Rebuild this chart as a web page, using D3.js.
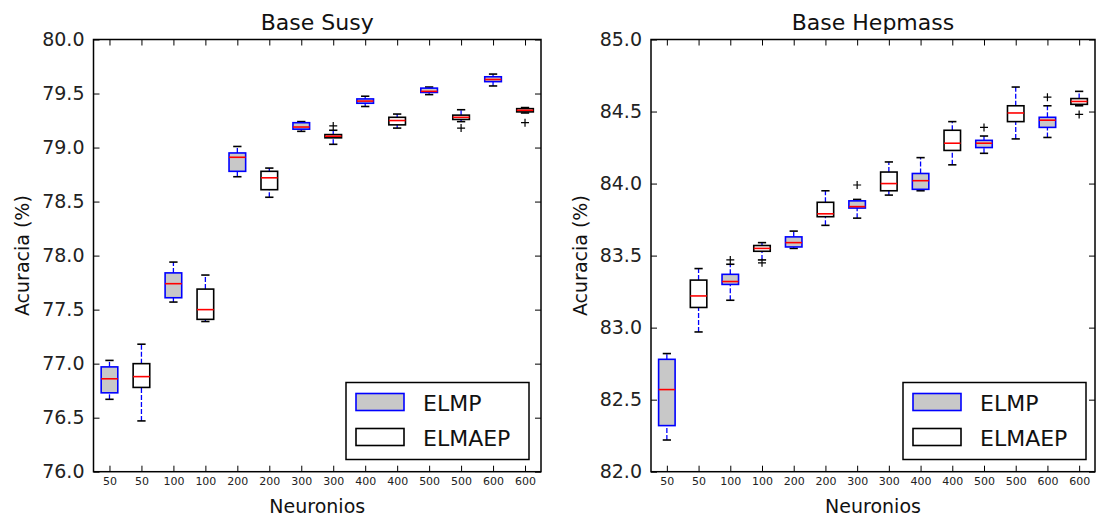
<!DOCTYPE html>
<html>
<head>
<meta charset="utf-8">
<script src="https://cdnjs.cloudflare.com/ajax/libs/d3/7.8.5/d3.min.js"></script>
<style>
  body { margin: 0; background: #fff; }
  svg { display: block; font-family: "DejaVu Sans", sans-serif; }
</style>
</head>
<body>
<svg id="chart" width="1097" height="521"></svg>
<script>
// x tick labels (one per box)
const tickLabels = ['50', '50', '100', '100', '200', '200', '300', '300', '400', '400', '500', '500', '600', '600'];
const seriesNames = ['ELMP', 'ELMAEP'];

// each box: [whisker low, q1, median, q3, whisker high]
const susyElmp = [
  [76.67, 76.73, 76.86, 76.97, 77.03],
  [77.57, 77.61, 77.74, 77.84, 77.94],
  [78.73, 78.78, 78.91, 78.95, 79.01],
  [79.15, 79.17, 79.19, 79.23, 79.24],
  [79.38, 79.41, 79.43, 79.45, 79.475],
  [79.49, 79.51, 79.52, 79.55, 79.56],
  [79.57, 79.61, 79.63, 79.655, 79.68]
];
const susyElmaep = [
  [76.47, 76.78, 76.88, 77.0, 77.18],
  [77.39, 77.41, 77.50, 77.69, 77.82],
  [78.54, 78.61, 78.72, 78.78, 78.81],
  [79.03, 79.09, 79.105, 79.12, 79.16],
  [79.18, 79.21, 79.25, 79.28, 79.31],
  [79.24, 79.26, 79.28, 79.30, 79.35],
  [79.32, 79.33, 79.345, 79.36, 79.37]
];
const susyElmpOut = [[], [], [], [], [], [], []];
const susyElmaepOut = [[], [], [], [79.2], [], [79.18], [79.23]];

const hepElmp = [
  [82.22, 82.32, 82.57, 82.78, 82.82],
  [83.19, 83.30, 83.32, 83.37, 83.44],
  [83.55, 83.56, 83.59, 83.63, 83.67],
  [83.76, 83.83, 83.84, 83.88, 83.89],
  [83.95, 83.96, 84.02, 84.07, 84.18],
  [84.21, 84.25, 84.28, 84.30, 84.33],
  [84.32, 84.39, 84.44, 84.46, 84.54]
];
const hepElmaep = [
  [82.97, 83.14, 83.22, 83.33, 83.41],
  [83.47, 83.53, 83.55, 83.57, 83.59],
  [83.71, 83.77, 83.79, 83.87, 83.95],
  [83.92, 83.95, 84.00, 84.08, 84.15],
  [84.13, 84.23, 84.28, 84.37, 84.43],
  [84.31, 84.43, 84.49, 84.54, 84.67],
  [84.54, 84.55, 84.57, 84.59, 84.64]
];
const hepElmpOut = [[], [83.47], [], [83.99], [], [84.39], [84.6]];
const hepElmaepOut = [[], [83.45], [], [], [], [], [84.48]];

const susyTicks = [76.0, 76.5, 77.0, 77.5, 78.0, 78.5, 79.0, 79.5, 80.0];
const hepTicks = [82.0, 82.5, 83.0, 83.5, 84.0, 84.5, 85.0];

// interleave ELMP / ELMAEP -> positions 1..14
function buildBoxes(a, b, outA, outB) {
  const rows = [];
  a.forEach((v, i) => {
    rows.push({ pos: i * 2 + 1, s: 0, v: v, out: outA[i] });
    rows.push({ pos: i * 2 + 2, s: 1, v: b[i], out: outB[i] });
  });
  return rows;
}

const panels = [
  { title: 'Base Susy', x0: 93.5, x1: 541, domain: [76, 80], ticks: susyTicks,
    boxes: buildBoxes(susyElmp, susyElmaep, susyElmpOut, susyElmaepOut), labelX: 22, legendX: 346 },
  { title: 'Base Hepmass', x0: 651, x1: 1095, domain: [82, 85], ticks: hepTicks,
    boxes: buildBoxes(hepElmp, hepElmaep, hepElmpOut, hepElmaepOut), labelX: 580, legendX: 903 }
];

const plotTop = 39.5, plotBottom = 471.7;
const svg = d3.select('#chart');

panels.forEach(p => {
  const x = d3.scaleLinear().domain([0.5, 14.5]).range([p.x0, p.x1]);
  const y = d3.scaleLinear().domain(p.domain).range([plotBottom, plotTop]);
  const step = x(2) - x(1);
  const g = svg.append('g');

  // axes with inward ticks
  const axB = g.append('g').attr('transform', `translate(0,${plotBottom})`)
    .call(d3.axisBottom(x).tickValues(d3.range(1, 15)).tickFormat(d => tickLabels[d - 1])
      .tickSize(-6).tickPadding(6));
  axB.selectAll('text').attr('font-size', 11).attr('fill', '#222').attr('font-family', 'DejaVu Sans');
  const axT = g.append('g').attr('transform', `translate(0,${plotTop})`)
    .call(d3.axisTop(x).tickValues(d3.range(1, 15)).tickFormat('').tickSize(-6));
  const axL = g.append('g').attr('transform', `translate(${p.x0},0)`)
    .call(d3.axisLeft(y).tickValues(p.ticks).tickFormat(d3.format('.1f')).tickSize(-6).tickPadding(9));
  axL.selectAll('text').attr('font-size', 19).attr('fill', '#222').attr('font-family', 'DejaVu Sans');
  const axR = g.append('g').attr('transform', `translate(${p.x1},0)`)
    .call(d3.axisRight(y).tickValues(p.ticks).tickFormat('').tickSize(-6));
  [axB, axT, axL, axR].forEach(a => {
    a.select('.domain').remove();
    a.selectAll('.tick line').attr('stroke', '#000').attr('stroke-width', 1);
  });

  // boxes
  const bw = step * 0.52, cw = step * 0.26;
  const bx = g.append('g').selectAll('g').data(p.boxes).enter().append('g');
  // whiskers
  bx.append('line')
    .attr('x1', d => x(d.pos)).attr('x2', d => x(d.pos))
    .attr('y1', d => y(d.v[0])).attr('y2', d => y(d.v[1]))
    .attr('stroke', '#0000ff').attr('stroke-width', 1.3).attr('stroke-dasharray', '5,2');
  bx.append('line')
    .attr('x1', d => x(d.pos)).attr('x2', d => x(d.pos))
    .attr('y1', d => y(d.v[3])).attr('y2', d => y(d.v[4]))
    .attr('stroke', '#0000ff').attr('stroke-width', 1.3).attr('stroke-dasharray', '5,2');
  // caps
  [0, 4].forEach(k => {
    bx.append('line')
      .attr('x1', d => x(d.pos) - cw / 2).attr('x2', d => x(d.pos) + cw / 2)
      .attr('y1', d => y(d.v[k])).attr('y2', d => y(d.v[k]))
      .attr('stroke', '#000').attr('stroke-width', 1.6);
  });
  bx.append('rect')
    .attr('x', d => x(d.pos) - bw / 2).attr('width', bw)
    .attr('y', d => y(d.v[3])).attr('height', d => y(d.v[1]) - y(d.v[3]))
    .attr('fill', d => d.s === 0 ? '#c8c8c8' : '#fff')
    .attr('stroke', d => d.s === 0 ? '#0000ff' : '#000').attr('stroke-width', 1.6);
  bx.append('line')
    .attr('x1', d => x(d.pos) - bw / 2).attr('x2', d => x(d.pos) + bw / 2)
    .attr('y1', d => y(d.v[2])).attr('y2', d => y(d.v[2]))
    .attr('stroke', '#ff0000').attr('stroke-width', 1.6);
  // fliers
  bx.selectAll('path.flier').data(d => d.out.map(o => ({ pos: d.pos, o: o }))).enter()
    .append('path').attr('class', 'flier')
    .attr('d', d => `M${x(d.pos) - 4},${y(d.o)}h8M${x(d.pos)},${y(d.o) - 4}v8`)
    .attr('stroke', '#000').attr('stroke-width', 1.2).attr('fill', 'none');

  // frame
  g.append('rect').attr('x', p.x0).attr('y', plotTop)
    .attr('width', p.x1 - p.x0).attr('height', plotBottom - plotTop)
    .attr('fill', 'none').attr('stroke', '#000').attr('stroke-width', 1.5);

  // legend
  const ly = 382.5;
  const lg = g.append('g').attr('transform', `translate(${p.legendX},${ly})`);
  lg.append('rect').attr('width', 183).attr('height', 77)
    .attr('fill', '#fff').attr('stroke', '#000').attr('stroke-width', 1.5);
  seriesNames.forEach((n, i) => {
    lg.append('rect').attr('x', 10).attr('y', 11 + i * 35).attr('width', 48).attr('height', 17)
      .attr('fill', i === 0 ? '#c8c8c8' : '#fff')
      .attr('stroke', i === 0 ? '#0000ff' : '#000').attr('stroke-width', 1.6);
    lg.append('text').attr('x', 77).attr('y', 28 + i * 35)
      .attr('font-size', 22).attr('fill', '#111').text(n);
  });

  // titles and labels
  g.append('text').attr('x', (p.x0 + p.x1) / 2).attr('y', 30)
    .attr('text-anchor', 'middle').attr('font-size', 22).attr('fill', '#111').text(p.title);
  g.append('text').attr('x', (p.x0 + p.x1) / 2).attr('y', 513)
    .attr('text-anchor', 'middle').attr('font-size', 19).attr('fill', '#111').text('Neuronios');
  g.append('text').attr('transform', `translate(${p.labelX + 7},${(plotTop + plotBottom) / 2}) rotate(-90)`)
    .attr('text-anchor', 'middle').attr('font-size', 19).attr('fill', '#111').text('Acuracia (%)');
});
</script>
</body>
</html>
